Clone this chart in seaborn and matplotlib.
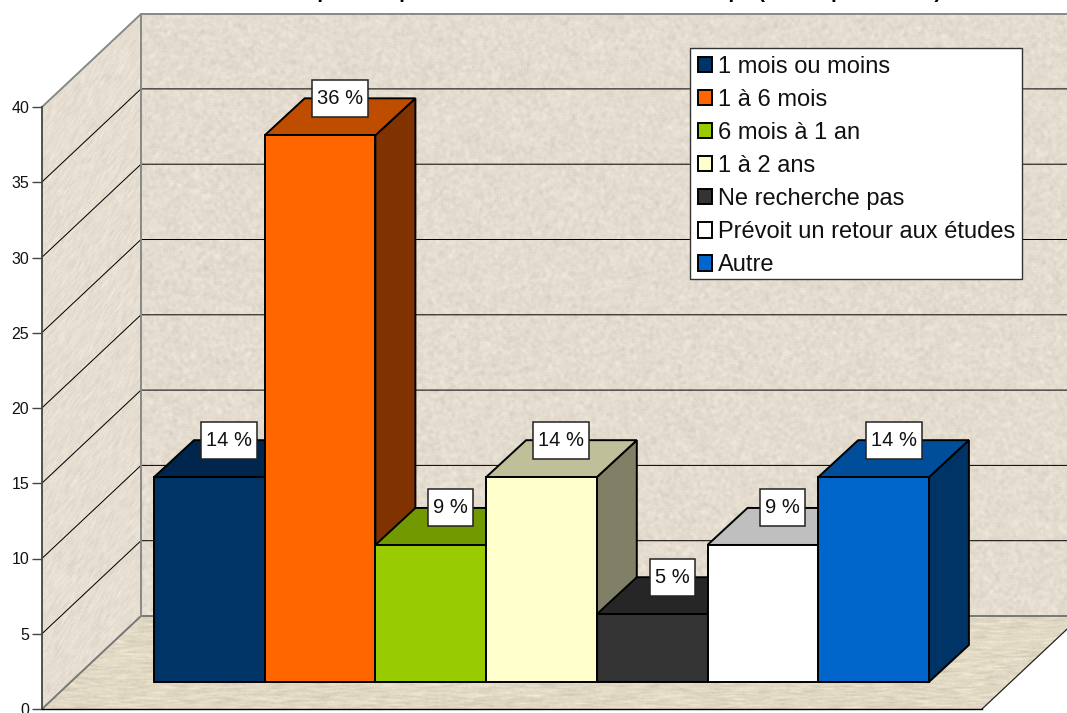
import matplotlib
matplotlib.use('Agg')
import numpy as np
import pandas as pd
import matplotlib.pyplot as plt
from matplotlib.patches import Polygon, Rectangle
import seaborn as sns

# Data
categories = ['1 mois ou moins', '1 à 6 mois', '6 mois à 1 an', '1 à 2 ans',
              'Ne recherche pas', 'Prévoit un retour aux études', 'Autre']
percents = [13.6, 36.3, 9.1, 13.6, 4.5, 9.1, 13.6]
bar_labels = ['14 %', '36 %', '9 %', '14 %', '5 %', '9 %', '14 %']
colors = ['#003366', '#FF6600', '#99CC00', '#FFFFCC', '#333333', '#FFFFFF', '#0066CC']
y_ticks = [0, 5, 10, 15, 20, 25, 30, 35, 40]
# the title is cut off by the top of the picture, only the descenders show: wording is a guess
title = 'Durée de recherche pour un poste selon les études et leur temps (sur 22 personnes)'

W, H = 1067, 713
UNIT = 15.06      # pixels for one percent
BAR_W = 110.7     # pixels for one bar
BAR_LEFT, BAR_BASE = 154, 682
BAR_DX, BAR_DY = 40, 37
ROOM_DX, ROOM_DY = 99, 93
AX_LEFT, AX_RIGHT, AX_BOTTOM, AX_TOP = 42, 982, 709, 107

sns.set_theme(style='white')
plt.rcParams['font.family'] = ['Liberation Sans', 'DejaVu Sans']

fig = plt.figure(figsize=(W / 100, H / 100), dpi=100, facecolor='white')

# Room: walls and floor in pixel coordinates
bg = fig.add_axes([0, 0, 1, 1], zorder=0)
bg.set_xlim(0, W)
bg.set_ylim(H, 0)
bg.set_axis_off()

rng = np.random.default_rng(3)  # only for the paper texture of the walls


def texture(kx, ky, shear=0, base=(227, 219, 207), amount=40):
    noise = rng.normal(size=(H, W))
    noise = np.apply_along_axis(lambda r: np.convolve(r, np.ones(kx) / kx, mode='same'), 1, noise)
    noise = np.apply_along_axis(lambda c: np.convolve(c, np.ones(ky) / ky, mode='same'), 0, noise)
    if shear:
        noise = np.array([np.roll(row, int(i * shear)) for i, row in enumerate(noise)])
    noise = noise / noise.std()
    img = np.array(base)[None, None, :] + noise[:, :, None] * amount / 8
    return np.clip(img, 0, 255).astype(np.uint8)


def textured(points, img):
    poly = Polygon(points, closed=True, facecolor='none', edgecolor='none')
    bg.add_patch(poly)
    im = bg.imshow(img, extent=(0, W, H, 0), aspect='auto', interpolation='bilinear', zorder=0)
    im.set_clip_path(poly)


back_x = AX_LEFT + ROOM_DX
back_floor = AX_BOTTOM - ROOM_DY
back_top = AX_TOP - ROOM_DY
textured([(back_x, back_top), (W, back_top), (W, back_floor), (back_x, back_floor)],
         texture(4, 4, base=(229, 220, 208), amount=30))
textured([(AX_LEFT, AX_TOP), (back_x, back_top), (back_x, back_floor), (AX_LEFT, AX_BOTTOM)],
         texture(2, 7, shear=-0.6, base=(229, 222, 209), amount=28))
textured([(AX_LEFT, AX_BOTTOM), (AX_RIGHT, AX_BOTTOM), (AX_RIGHT + ROOM_DX, back_floor), (back_x, back_floor)],
         texture(13, 2, base=(226, 217, 196), amount=42))
bg.set_xlim(0, W)
bg.set_ylim(H, 0)

for v in y_ticks[1:-1]:
    y = AX_BOTTOM - v * UNIT
    bg.plot([AX_LEFT, back_x, W], [y, y - ROOM_DY, y - ROOM_DY], color='black', lw=0.72, zorder=1)
bg.plot([AX_LEFT, back_x, W], [AX_TOP, back_top, back_top], color='#888888', lw=1.4, zorder=1)
bg.plot([AX_LEFT, back_x, W], [AX_BOTTOM, back_floor, back_floor], color='#777777', lw=1.4, zorder=1)
bg.plot([back_x, back_x], [back_top, back_floor], color='#888888', lw=1.4, zorder=1)
bg.plot([AX_RIGHT, AX_RIGHT + ROOM_DX], [AX_BOTTOM, back_floor], color='#222222', lw=0.9, zorder=1)

# Value axis on the front edge of the left wall
axis = fig.add_axes([AX_LEFT / W, (H - AX_BOTTOM) / H, (AX_RIGHT - AX_LEFT) / W, (AX_BOTTOM - AX_TOP) / H], zorder=1)
axis.patch.set_visible(False)
axis.set_ylim(0, 40)
axis.set_xticks([])
axis.set_yticks(y_ticks)
axis.tick_params(axis='y', left=True, length=7, width=1, color='#444444', labelsize=11.5, pad=2.2, labelcolor='#111111')
axis.spines[['top', 'right']].set_visible(False)
axis.spines['left'].set_color('#444444')
axis.spines['left'].set_linewidth(1.3)
axis.spines['bottom'].set_color('black')
axis.spines['bottom'].set_linewidth(1.0)

# Bars
ax = fig.add_axes([0, 0, 1, 1], zorder=2)
df = pd.DataFrame({'duree': categories, 'pct': percents})
sns.barplot(data=df, x='duree', y='pct', hue='duree', palette=colors, order=categories,
            hue_order=categories, dodge=False, width=1, edgecolor='black', linewidth=1.4,
            saturation=1, legend=True, ax=ax)
ax.set_xlim(-0.5 - BAR_LEFT / BAR_W, -0.5 + (W - BAR_LEFT) / BAR_W)
ax.set_ylim(-(H - BAR_BASE) / UNIT, BAR_BASE / UNIT)

dx = BAR_DX / BAR_W
dy = BAR_DY / UNIT


def shade(color, f):
    r, g, b = matplotlib.colors.to_rgb(color)
    return (r * f, g * f, b * f)


renderer = fig.canvas.get_renderer()
bars = [c[0] for c in ax.containers]
for i, bar in enumerate(bars):
    x0, w, h = bar.get_x(), bar.get_width(), bar.get_height()
    x1 = x0 + w
    bar.set_zorder(3 * i + 4)
    ax.add_patch(Polygon([(x1, 0), (x1 + dx, dy), (x1 + dx, h + dy), (x1, h)], closed=True,
                         facecolor=shade(colors[i], 0.5), edgecolor='black', lw=1.4, zorder=3 * i + 2))
    ax.add_patch(Polygon([(x0, h), (x0 + dx, h + dy), (x1 + dx, h + dy), (x1, h)], closed=True,
                         facecolor=shade(colors[i], 0.75), edgecolor='black', lw=1.4, zorder=3 * i + 3))
    cx, cy = x0 + w / 2 + dx / 2, h + dy
    txt = ax.text(cx, cy, bar_labels[i], ha='center', va='center', fontsize=14.5, color='#111111', zorder=51)
    # label box: 5 px either side of the text, 37 px high
    box_w = (txt.get_window_extent(renderer).width + 10) / BAR_W
    box_h = 37 / UNIT
    ax.add_patch(Rectangle((cx - box_w / 2, cy - box_h / 2), box_w, box_h, facecolor='white',
                           edgecolor='#222222', lw=1.1, zorder=50))

# Legend frame drawn apart so its size is that of the reference
ax.add_patch(Rectangle((690 / W, 1 - 279 / H), 332 / W, 231 / H, transform=fig.transFigure, facecolor='white',
                       edgecolor='#333333', lw=1.0, zorder=99))
handles, labels = ax.get_legend_handles_labels()
leg = ax.legend(handles, labels, loc='upper left', bbox_to_anchor=(691 / W, 1 - 49 / H), bbox_transform=fig.transFigure,
                fontsize=17, frameon=False, borderaxespad=0, borderpad=0.28, labelspacing=0.47, handlelength=0.63,
                handleheight=0.63, handletextpad=0.25, labelcolor='#111111')
leg.set_zorder(100)
ax.set_axis_off()

fig.text(531 / W, 1 + 2 / H, title, ha='center', va='baseline', fontsize=14.8, fontweight='bold', color='black')

fig.savefig('out.png', dpi=100)
plt.close(fig)
